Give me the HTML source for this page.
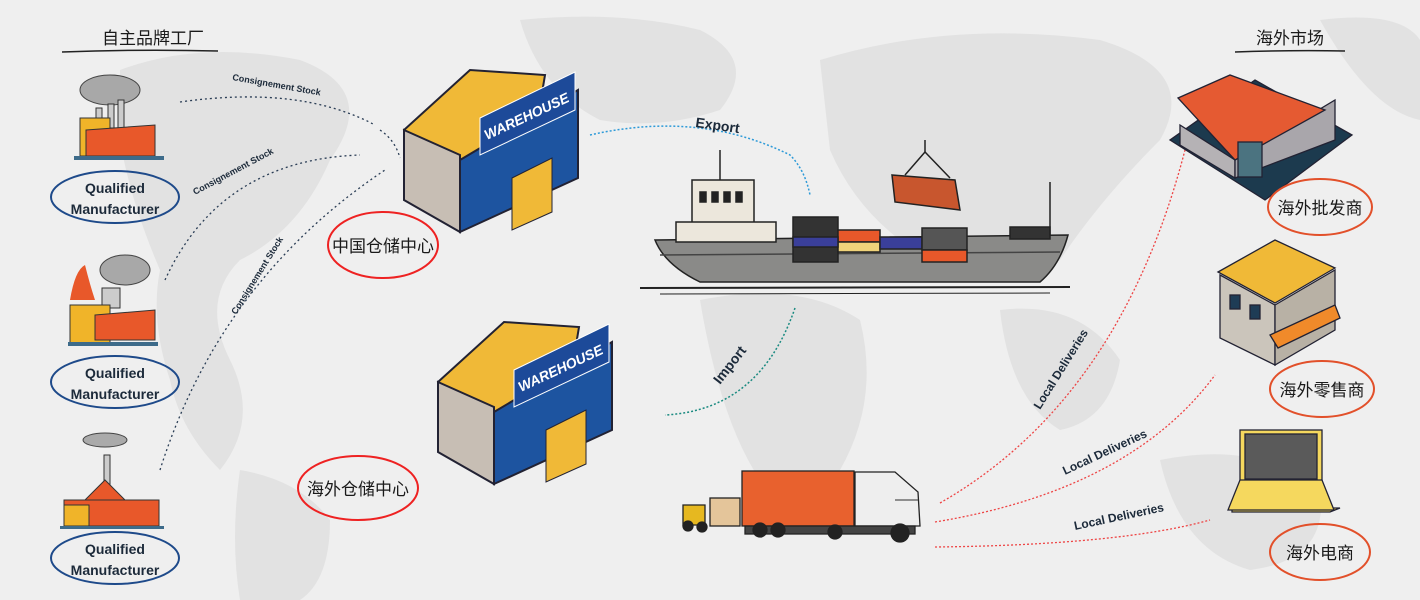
<!DOCTYPE html>
<html><head><meta charset="utf-8"><style>
html,body{margin:0;padding:0;background:#efefef}
svg{display:block}
text{font-family:"Liberation Sans","Noto Sans CJK SC",sans-serif}
.cn{font-size:17px;fill:#1a1a1a}
.hand{font-family:"Liberation Sans",sans-serif;fill:#1c2a3a;font-weight:bold}
</style></head><body>
<svg width="1420" height="600" viewBox="0 0 1420 600" xmlns="http://www.w3.org/2000/svg">
<rect width="1420" height="600" fill="#efefef"/>
<!-- map blobs -->
<g fill="#dedede" opacity="0.75">
<path d="M120 70 Q200 40 300 60 Q380 90 330 160 Q300 230 240 260 Q200 300 230 360 Q260 420 220 470 Q180 430 170 380 Q150 320 160 270 Q130 200 120 140Z"/>
<path d="M240 470 Q300 480 330 520 Q330 580 300 600 L240 600 Q230 540 240 470Z"/>
<path d="M520 20 Q620 10 700 30 Q760 60 720 110 Q660 130 600 120 Q540 90 520 20Z"/>
<path d="M700 300 Q800 280 860 320 Q880 400 840 470 Q800 520 760 480 Q720 420 700 300Z"/>
<path d="M820 60 Q950 20 1100 40 Q1200 70 1160 140 Q1100 200 1060 260 Q1000 300 930 260 Q860 220 830 150Z"/>
<path d="M1000 310 Q1080 300 1120 360 Q1110 420 1060 430 Q1010 400 1000 310Z"/>
<path d="M1160 460 Q1260 440 1320 490 Q1330 560 1250 570 Q1180 550 1160 460Z"/>
<path d="M1320 20 Q1400 10 1420 40 L1420 120 Q1370 110 1320 20Z"/>
</g>
<!-- titles -->
<text x="102" y="44" class="cn" font-size="18">自主品牌工厂</text>
<path d="M62 52 Q140 49 218 51" stroke="#222" stroke-width="1.5" fill="none"/>
<text x="1256" y="44" class="cn" font-size="18">海外市场</text>
<path d="M1235 52 Q1290 50 1345 51" stroke="#222" stroke-width="1.5" fill="none"/>

<!-- factory 1 -->
<g>
<ellipse cx="110" cy="90" rx="30" ry="15" fill="#a8a8a8" stroke="#444"/>
<rect x="96" y="108" width="6" height="20" fill="#ccc" stroke="#333"/>
<rect x="108" y="104" width="6" height="24" fill="#ccc" stroke="#333"/>
<rect x="118" y="100" width="6" height="28" fill="#ccc" stroke="#333"/>
<rect x="80" y="118" width="30" height="38" fill="#f0b429" stroke="#333"/>
<path d="M86 130 L155 125 L155 156 L86 156Z" fill="#e8582a" stroke="#333"/>
<rect x="74" y="156" width="90" height="4" fill="#3d6b8a"/>
</g>
<ellipse cx="115" cy="197" rx="64" ry="26" fill="none" stroke="#1e4a8a" stroke-width="2"/>
<text x="115" y="193" text-anchor="middle" class="hand" font-size="14">Qualified</text>
<text x="115" y="214" text-anchor="middle" class="hand" font-size="14">Manufacturer</text>

<!-- factory 2 -->
<g>
<path d="M70 300 Q75 270 85 265 Q90 285 95 300Z" fill="#e8582a"/>
<ellipse cx="125" cy="270" rx="25" ry="15" fill="#a8a8a8" stroke="#444"/>
<rect x="102" y="288" width="18" height="20" fill="#ccc" stroke="#333"/>
<rect x="70" y="305" width="40" height="40" fill="#f0b429" stroke="#333"/>
<path d="M95 315 L155 310 L155 340 L95 340Z" fill="#e8582a" stroke="#333"/>
<rect x="68" y="342" width="90" height="4" fill="#3d6b8a"/>
</g>
<ellipse cx="115" cy="382" rx="64" ry="26" fill="none" stroke="#1e4a8a" stroke-width="2"/>
<text x="115" y="378" text-anchor="middle" class="hand" font-size="14">Qualified</text>
<text x="115" y="399" text-anchor="middle" class="hand" font-size="14">Manufacturer</text>

<!-- factory 3 -->
<g>
<ellipse cx="105" cy="440" rx="22" ry="7" fill="#aaa" stroke="#444"/>
<rect x="104" y="455" width="6" height="40" fill="#ccc" stroke="#333"/>
<path d="M85 500 L105 480 L125 500Z" fill="#e8582a" stroke="#333"/>
<rect x="64" y="500" width="95" height="26" fill="#e8582a" stroke="#333"/>
<rect x="64" y="505" width="25" height="21" fill="#f0b429" stroke="#333"/>
<rect x="60" y="526" width="104" height="3" fill="#3d6b8a"/>
</g>
<ellipse cx="115" cy="558" rx="64" ry="26" fill="none" stroke="#1e4a8a" stroke-width="2"/>
<text x="115" y="554" text-anchor="middle" class="hand" font-size="14">Qualified</text>
<text x="115" y="575" text-anchor="middle" class="hand" font-size="14">Manufacturer</text>

<!-- consignment arrows -->
<g fill="none" stroke="#2a3d55" stroke-width="1.3" stroke-dasharray="2 3">
<path d="M180 102 Q300 85 375 125"/>
<path d="M165 280 Q220 160 360 155"/>
<path d="M160 470 Q220 280 385 170"/>
<path d="M380 130 Q395 140 400 158"/>
</g>
<g class="hand" font-size="9">
<text x="232" y="80" transform="rotate(10 232 80)">Consignement Stock</text>
<text x="195" y="195" transform="rotate(-28 195 195)">Consignement Stock</text>
<text x="236" y="315" transform="rotate(-58 236 315)">Consignement Stock</text>
</g>

<!-- warehouse generic -->
<g id="wh">
<path d="M404 130 L470 70 L545 75 L530 165 L455 225Z" fill="#f0b937" stroke="#223" stroke-width="2"/>
<path d="M404 130 L460 155 L460 232 L404 200Z" fill="#c7beb4" stroke="#223" stroke-width="2"/>
<path d="M460 160 L578 90 L578 178 L460 232Z" fill="#1d54a0" stroke="#223" stroke-width="2"/>
<path d="M480 118 L575 72 L575 110 L480 155Z" fill="#1d4a99" stroke="#fff" stroke-width="1"/>
<text x="487" y="140" fill="#fff" font-weight="bold" font-style="italic" font-size="14" transform="rotate(-25 487 140)">WAREHOUSE</text>
<path d="M512 178 L552 158 L552 212 L512 230Z" fill="#f0b937" stroke="#223"/>
</g>
<use href="#wh" transform="translate(34 252)"/>

<ellipse cx="383" cy="245" rx="55" ry="33" fill="none" stroke="#e22" stroke-width="2"/>
<text x="383" y="252" text-anchor="middle" class="cn">中国仓储中心</text>
<ellipse cx="358" cy="488" rx="60" ry="32" fill="none" stroke="#e22" stroke-width="2"/>
<text x="358" y="495" text-anchor="middle" class="cn">海外仓储中心</text>

<!-- export/import -->
<path d="M590 135 Q700 110 790 155 Q805 170 810 195" fill="none" stroke="#2d9ad8" stroke-width="1.5" stroke-dasharray="2 2"/>
<text x="695" y="127" class="hand" font-size="14" transform="rotate(8 695 127)">Export</text>
<path d="M795 308 Q760 410 665 415" fill="none" stroke="#1a8a80" stroke-width="1.5" stroke-dasharray="2 2"/>
<text x="720" y="385" class="hand" font-size="14" transform="rotate(-52 720 385)">Import</text>

<!-- ship -->
<g stroke="#222" stroke-width="1.5">
<path d="M655 240 L1068 235 Q1060 265 1040 282 L700 282 Q665 265 655 240Z" fill="#8a8a88"/>
<path d="M660 255 L1060 252" stroke="#444"/>
<rect x="692" y="180" width="62" height="45" fill="#ece7dc"/>
<rect x="700" y="192" width="6" height="10" fill="#222"/><rect x="712" y="192" width="6" height="10" fill="#222"/><rect x="724" y="192" width="6" height="10" fill="#222"/><rect x="736" y="192" width="6" height="10" fill="#222"/>
<rect x="676" y="222" width="100" height="20" fill="#ece7dc"/>
<line x1="720" y1="150" x2="720" y2="180"/>
<rect x="793" y="217" width="45" height="45" fill="#333"/>
<rect x="838" y="230" width="42" height="12" fill="#e8582a"/>
<rect x="838" y="242" width="42" height="10" fill="#f0d37a"/>
<rect x="793" y="237" width="45" height="10" fill="#3a3f9a"/>
<rect x="880" y="237" width="42" height="12" fill="#3a3f9a"/>
<rect x="922" y="228" width="45" height="22" fill="#555"/>
<rect x="922" y="250" width="45" height="12" fill="#e8582a"/>
<rect x="1010" y="227" width="40" height="12" fill="#333"/>
<line x1="1050" y1="182" x2="1050" y2="235"/>
<path d="M892 175 L955 180 L960 210 L895 202Z" fill="#c8562e"/>
<path d="M905 175 L925 152 L950 178" fill="none"/>
<line x1="925" y1="140" x2="925" y2="152"/>
</g>
<path d="M640 288 L1070 287" stroke="#222" stroke-width="2"/>
<path d="M660 294 L1050 293" stroke="#222" stroke-width="1"/>

<!-- truck -->
<g stroke="#222" stroke-width="1.3">
<rect x="742" y="471" width="112" height="55" fill="#e8612e"/>
<path d="M855 472 L895 472 L918 492 L920 526 L855 526Z" fill="#eee"/>
<path d="M895 500 L918 500" stroke="#555"/>
<rect x="745" y="526" width="170" height="8" fill="#444"/>
<circle cx="760" cy="530" r="7" fill="#222"/><circle cx="778" cy="530" r="7" fill="#222"/>
<circle cx="835" cy="532" r="7" fill="#222"/><circle cx="900" cy="533" r="9" fill="#222"/>
<rect x="710" y="498" width="30" height="28" fill="#e4c59a"/>
<path d="M683 505 L705 505 L705 525 L683 525Z" fill="#e6b820"/>
<circle cx="688" cy="526" r="5" fill="#222"/><circle cx="702" cy="527" r="5" fill="#222"/>
</g>

<!-- local deliveries -->
<g fill="none" stroke="#ee4444" stroke-width="1.3" stroke-dasharray="2 2">
<path d="M940 503 Q1120 400 1185 150"/>
<path d="M935 522 Q1130 490 1215 375"/>
<path d="M935 547 Q1120 545 1210 520"/>
</g>
<g class="hand" font-size="12">
<text x="1040" y="410" transform="rotate(-58 1040 410)">Local Deliveries</text>
<text x="1065" y="475" transform="rotate(-25 1065 475)">Local Deliveries</text>
<text x="1075" y="530" transform="rotate(-12 1075 530)">Local Deliveries</text>
</g>

<!-- right buildings -->
<g stroke="#223" stroke-width="1.3">
<path d="M1170 140 L1265 200 L1352 135 L1255 80Z" fill="#1c3a4e"/>
<path d="M1180 125 L1235 160 L1235 178 L1180 145Z" fill="#b5b2b5"/>
<path d="M1235 160 L1335 100 L1335 140 L1235 178Z" fill="#a9a6ab"/>
<path d="M1178 98 L1230 75 L1325 110 L1235 160Z" fill="#e55a32"/>
<rect x="1238" y="142" width="24" height="35" fill="#4b7380"/>
</g>
<ellipse cx="1320" cy="207" rx="52" ry="28" fill="none" stroke="#e2502a" stroke-width="2"/>
<text x="1320" y="214" text-anchor="middle" class="cn">海外批发商</text>

<g stroke="#223" stroke-width="1.3">
<path d="M1220 275 L1275 305 L1275 365 L1220 338Z" fill="#cbc5bb"/>
<path d="M1275 305 L1335 270 L1335 330 L1275 365Z" fill="#b8b1a5"/>
<path d="M1218 272 L1275 240 L1335 268 L1275 303Z" fill="#f0b937"/>
<rect x="1230" y="295" width="10" height="14" fill="#1e3c55"/><rect x="1250" y="305" width="10" height="14" fill="#1e3c55"/>
<path d="M1270 335 L1335 305 L1340 318 L1278 348Z" fill="#f08a2a"/>
</g>
<ellipse cx="1322" cy="389" rx="52" ry="28" fill="none" stroke="#e2502a" stroke-width="2"/>
<text x="1322" y="396" text-anchor="middle" class="cn">海外零售商</text>

<g stroke="#223" stroke-width="1.3">
<rect x="1240" y="430" width="82" height="80" fill="#f5d85e"/>
<rect x="1245" y="434" width="72" height="45" fill="#5a5a5a"/>
<path d="M1232 512 L1330 512 L1340 508 L1232 508Z" fill="#f5d85e"/>
<path d="M1228 510 L1240 480 L1322 480 L1334 510Z" fill="#f5d85e"/>
</g>
<ellipse cx="1320" cy="552" rx="50" ry="28" fill="none" stroke="#e2502a" stroke-width="2"/>
<text x="1320" y="559" text-anchor="middle" class="cn">海外电商</text>
</svg>
</body></html>
